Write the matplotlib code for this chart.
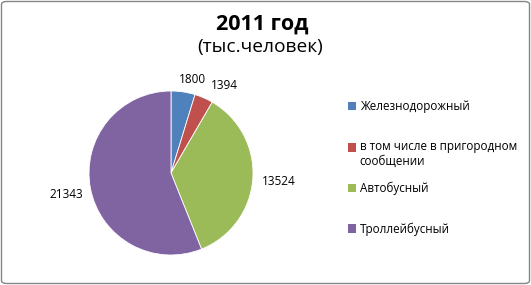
import numpy as np
import matplotlib
matplotlib.use("Agg")
import matplotlib.pyplot as plt
from matplotlib.patches import FancyBboxPatch, Patch, Rectangle
from matplotlib.legend_handler import HandlerPatch

plt.rcParams['font.family'] = ['Open Sans', 'DejaVu Sans']

# данные
kategoriar = ["Железнодорожный",
              "в том числе в пригородном\nсообщении",
              "Автобусный",
              "Троллейбусный"]
verdiar = [1800, 1394, 13524, 21343]
fargar = ["#4F81BD", "#C0504D", "#9BBB59", "#8064A2"]

# plassering av verdi-etikettar (vinkelforskyving i grader, avstand i radiar)
etikett_vinkel = [4.2, 7.7, 0.6, -0.7]
etikett_avstand = [1.17, 1.25, 1.32, 1.30]

W, H = 531, 285
fig = plt.figure(figsize=(W / 100, H / 100), dpi=100)

# ramme rundt figuren
ramme = FancyBboxPatch((1.5 / W, 1.5 / H), 1 - 3 / W, 1 - 3 / H,
                       boxstyle="round,pad=0,rounding_size=0.01",
                       transform=fig.transFigure, facecolor="none",
                       edgecolor="#868686", linewidth=1.0, zorder=10)
fig.patches.append(ramme)

# pie-akse: senter (171, 173) px, radius 82 px
cx, cy, r = 171, H - 173, 82
ax = fig.add_axes([(cx - r) / W, (cy - r) / H, 2 * r / W, 2 * r / H])
total = sum(verdiar)
wedges, _, tekstar = ax.pie(verdiar, colors=fargar, startangle=90, counterclock=False,
                            autopct=lambda p: "{:d}".format(round(p * total / 100)),
                            pctdistance=1.25,
                            wedgeprops=dict(edgecolor="white", linewidth=0.6),
                            textprops=dict(fontsize=8.5, color="#000000"))
for w, t, dv, d in zip(wedges, tekstar, etikett_vinkel, etikett_avstand):
    theta = np.deg2rad((w.theta1 + w.theta2) / 2 - dv)
    t.set_position((d * np.cos(theta), d * np.sin(theta)))
ax.set_xlim(-1, 1)
ax.set_ylim(-1, 1)
ax.set_aspect("equal")
ax.axis("off")

fig.text(262 / W, 1 - 24 / H, "2011 год", ha="center", va="center",
         fontsize=15.5, fontweight="bold")
fig.text(260 / W, 1 - 47 / H, "(тыс.человек)", ha="center", va="center",
         fontsize=13.8)


# markør for fleirlinja etikett: på linje med fyrste linja
def fyrste_linje(legend, orig_handle, xdescent, ydescent, width, height, fontsize):
    return Rectangle((-xdescent, -ydescent + 0.62 * fontsize), width, height)


handtak = [Patch(facecolor=f, edgecolor="none") for f in fargar]
felles = dict(loc="upper left", frameon=False, fontsize=8.4, handlelength=0.7,
              handleheight=0.7, handletextpad=0.3, labelspacing=2.3,
              borderaxespad=0, borderpad=0)
leg1 = fig.legend(handtak[:2], kategoriar[:2], bbox_to_anchor=(348 / W, 1 - 100 / H),
                  handler_map={handtak[1]: HandlerPatch(patch_func=fyrste_linje)},
                  **felles)
leg2 = fig.legend(handtak[2:], kategoriar[2:], bbox_to_anchor=(348 / W, 1 - 182 / H),
                  **felles)

fig.savefig("out.png", dpi=100)
